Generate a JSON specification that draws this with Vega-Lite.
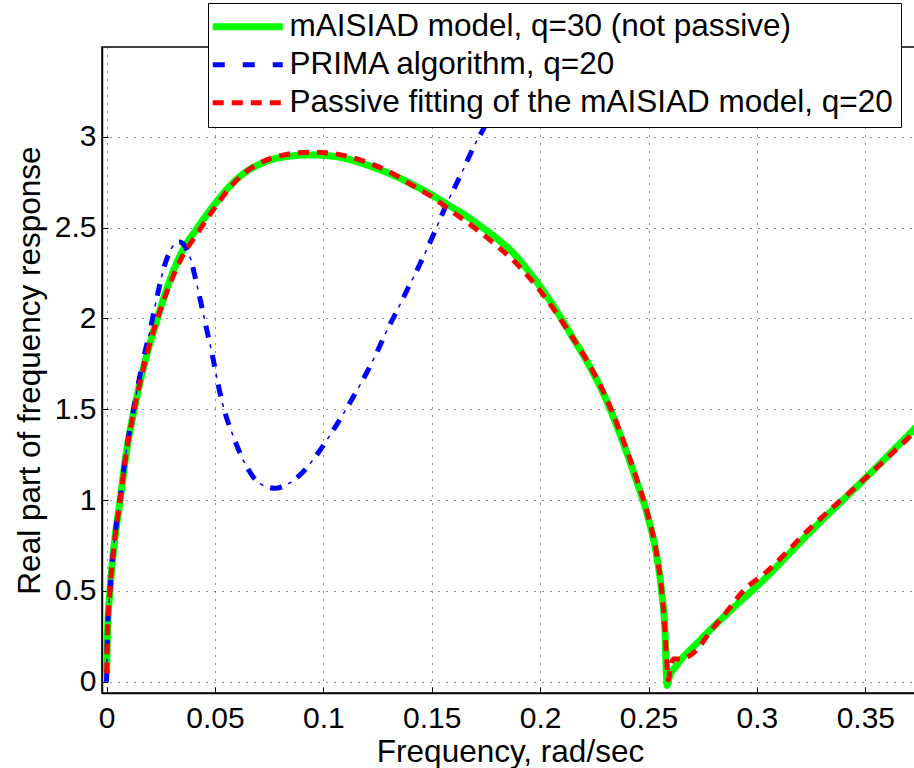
{
  "$schema": "https://vega.github.io/schema/vega-lite/v6.json",
  "width": 816,
  "height": 646,
  "autosize": {"type": "none"},
  "padding": {"left": 102, "top": 47, "right": 0, "bottom": 75},
  "background": "white",
  "config": {
    "font": "Liberation Sans",
    "view": {"stroke": "black", "strokeWidth": 1.5},
    "axis": {
      "grid": true,
      "gridDash": [1, 7],
      "gridColor": "#222222",
      "gridWidth": 1,
      "domainColor": "black",
      "domainWidth": 1.5,
      "tickColor": "black",
      "tickWidth": 1,
      "tickSize": -6,
      "labelFontSize": 30,
      "labelColor": "black",
      "labelFont": "Liberation Sans",
      "titleFont": "Liberation Sans",
      "titleFontSize": 31.5,
      "titleFontWeight": "normal",
      "titleColor": "black",
      "labelFlush": false,
      "labelOverlap": false,
      "format": "~g"
    }
  },
  "datasets": {
    "curves": [
      {"series": "mAISIAD model, q=30 (not passive)", "x": 0.0001, "y": 0.046},
      {"series": "mAISIAD model, q=30 (not passive)", "x": 0.0004, "y": 0.25},
      {"series": "mAISIAD model, q=30 (not passive)", "x": 0.0016, "y": 0.5},
      {"series": "mAISIAD model, q=30 (not passive)", "x": 0.0035, "y": 0.75},
      {"series": "mAISIAD model, q=30 (not passive)", "x": 0.0063, "y": 1.0},
      {"series": "mAISIAD model, q=30 (not passive)", "x": 0.009, "y": 1.25},
      {"series": "mAISIAD model, q=30 (not passive)", "x": 0.0128, "y": 1.5},
      {"series": "mAISIAD model, q=30 (not passive)", "x": 0.0175, "y": 1.75},
      {"series": "mAISIAD model, q=30 (not passive)", "x": 0.0235, "y": 2.0},
      {"series": "mAISIAD model, q=30 (not passive)", "x": 0.028, "y": 2.17},
      {"series": "mAISIAD model, q=30 (not passive)", "x": 0.0345, "y": 2.36},
      {"series": "mAISIAD model, q=30 (not passive)", "x": 0.042, "y": 2.5},
      {"series": "mAISIAD model, q=30 (not passive)", "x": 0.05, "y": 2.63},
      {"series": "mAISIAD model, q=30 (not passive)", "x": 0.0562, "y": 2.72},
      {"series": "mAISIAD model, q=30 (not passive)", "x": 0.0635, "y": 2.8},
      {"series": "mAISIAD model, q=30 (not passive)", "x": 0.0708, "y": 2.85},
      {"series": "mAISIAD model, q=30 (not passive)", "x": 0.08, "y": 2.885},
      {"series": "mAISIAD model, q=30 (not passive)", "x": 0.094, "y": 2.9},
      {"series": "mAISIAD model, q=30 (not passive)", "x": 0.103, "y": 2.895},
      {"series": "mAISIAD model, q=30 (not passive)", "x": 0.112, "y": 2.875},
      {"series": "mAISIAD model, q=30 (not passive)", "x": 0.12, "y": 2.845},
      {"series": "mAISIAD model, q=30 (not passive)", "x": 0.13, "y": 2.8},
      {"series": "mAISIAD model, q=30 (not passive)", "x": 0.1415, "y": 2.735},
      {"series": "mAISIAD model, q=30 (not passive)", "x": 0.15, "y": 2.68},
      {"series": "mAISIAD model, q=30 (not passive)", "x": 0.1569, "y": 2.63},
      {"series": "mAISIAD model, q=30 (not passive)", "x": 0.1645, "y": 2.575},
      {"series": "mAISIAD model, q=30 (not passive)", "x": 0.1723, "y": 2.51},
      {"series": "mAISIAD model, q=30 (not passive)", "x": 0.18, "y": 2.44},
      {"series": "mAISIAD model, q=30 (not passive)", "x": 0.1876, "y": 2.36},
      {"series": "mAISIAD model, q=30 (not passive)", "x": 0.195, "y": 2.255},
      {"series": "mAISIAD model, q=30 (not passive)", "x": 0.203, "y": 2.125},
      {"series": "mAISIAD model, q=30 (not passive)", "x": 0.21, "y": 1.995},
      {"series": "mAISIAD model, q=30 (not passive)", "x": 0.2155, "y": 1.885},
      {"series": "mAISIAD model, q=30 (not passive)", "x": 0.2215, "y": 1.765},
      {"series": "mAISIAD model, q=30 (not passive)", "x": 0.23, "y": 1.565},
      {"series": "mAISIAD model, q=30 (not passive)", "x": 0.2369, "y": 1.36},
      {"series": "mAISIAD model, q=30 (not passive)", "x": 0.2446, "y": 1.1},
      {"series": "mAISIAD model, q=30 (not passive)", "x": 0.2499, "y": 0.9},
      {"series": "mAISIAD model, q=30 (not passive)", "x": 0.2538, "y": 0.69},
      {"series": "mAISIAD model, q=30 (not passive)", "x": 0.2561, "y": 0.49},
      {"series": "mAISIAD model, q=30 (not passive)", "x": 0.2576, "y": 0.27},
      {"series": "mAISIAD model, q=30 (not passive)", "x": 0.2581, "y": 0.08},
      {"series": "mAISIAD model, q=30 (not passive)", "x": 0.2586, "y": -0.02},
      {"series": "mAISIAD model, q=30 (not passive)", "x": 0.2595, "y": 0.02},
      {"series": "mAISIAD model, q=30 (not passive)", "x": 0.263, "y": 0.09},
      {"series": "mAISIAD model, q=30 (not passive)", "x": 0.2722, "y": 0.21},
      {"series": "mAISIAD model, q=30 (not passive)", "x": 0.2876, "y": 0.39},
      {"series": "mAISIAD model, q=30 (not passive)", "x": 0.303, "y": 0.56},
      {"series": "mAISIAD model, q=30 (not passive)", "x": 0.325, "y": 0.83},
      {"series": "mAISIAD model, q=30 (not passive)", "x": 0.35, "y": 1.12},
      {"series": "mAISIAD model, q=30 (not passive)", "x": 0.375, "y": 1.42},

      {"series": "PRIMA algorithm, q=20", "x": 0.0, "y": 0.0},
      {"series": "PRIMA algorithm, q=20", "x": 0.0001, "y": 0.05},
      {"series": "PRIMA algorithm, q=20", "x": 0.0004, "y": 0.25},
      {"series": "PRIMA algorithm, q=20", "x": 0.0016, "y": 0.5},
      {"series": "PRIMA algorithm, q=20", "x": 0.0035, "y": 0.76},
      {"series": "PRIMA algorithm, q=20", "x": 0.0063, "y": 1.01},
      {"series": "PRIMA algorithm, q=20", "x": 0.009, "y": 1.26},
      {"series": "PRIMA algorithm, q=20", "x": 0.0128, "y": 1.52},
      {"series": "PRIMA algorithm, q=20", "x": 0.0165, "y": 1.75},
      {"series": "PRIMA algorithm, q=20", "x": 0.02, "y": 1.93},
      {"series": "PRIMA algorithm, q=20", "x": 0.0239, "y": 2.15},
      {"series": "PRIMA algorithm, q=20", "x": 0.0265, "y": 2.28},
      {"series": "PRIMA algorithm, q=20", "x": 0.0293, "y": 2.37},
      {"series": "PRIMA algorithm, q=20", "x": 0.0315, "y": 2.41},
      {"series": "PRIMA algorithm, q=20", "x": 0.0339, "y": 2.42},
      {"series": "PRIMA algorithm, q=20", "x": 0.036, "y": 2.4},
      {"series": "PRIMA algorithm, q=20", "x": 0.0385, "y": 2.34},
      {"series": "PRIMA algorithm, q=20", "x": 0.0416, "y": 2.19},
      {"series": "PRIMA algorithm, q=20", "x": 0.0462, "y": 1.94},
      {"series": "PRIMA algorithm, q=20", "x": 0.0493, "y": 1.77},
      {"series": "PRIMA algorithm, q=20", "x": 0.0516, "y": 1.63},
      {"series": "PRIMA algorithm, q=20", "x": 0.0547, "y": 1.48},
      {"series": "PRIMA algorithm, q=20", "x": 0.0585, "y": 1.35},
      {"series": "PRIMA algorithm, q=20", "x": 0.0639, "y": 1.2},
      {"series": "PRIMA algorithm, q=20", "x": 0.0708, "y": 1.09},
      {"series": "PRIMA algorithm, q=20", "x": 0.0777, "y": 1.065},
      {"series": "PRIMA algorithm, q=20", "x": 0.0846, "y": 1.095},
      {"series": "PRIMA algorithm, q=20", "x": 0.0885, "y": 1.13},
      {"series": "PRIMA algorithm, q=20", "x": 0.097, "y": 1.25},
      {"series": "PRIMA algorithm, q=20", "x": 0.1046, "y": 1.385},
      {"series": "PRIMA algorithm, q=20", "x": 0.1115, "y": 1.52},
      {"series": "PRIMA algorithm, q=20", "x": 0.1177, "y": 1.65},
      {"series": "PRIMA algorithm, q=20", "x": 0.1238, "y": 1.79},
      {"series": "PRIMA algorithm, q=20", "x": 0.1292, "y": 1.93},
      {"series": "PRIMA algorithm, q=20", "x": 0.1339, "y": 2.04},
      {"series": "PRIMA algorithm, q=20", "x": 0.1392, "y": 2.17},
      {"series": "PRIMA algorithm, q=20", "x": 0.1446, "y": 2.3},
      {"series": "PRIMA algorithm, q=20", "x": 0.1515, "y": 2.48},
      {"series": "PRIMA algorithm, q=20", "x": 0.1569, "y": 2.63},
      {"series": "PRIMA algorithm, q=20", "x": 0.1638, "y": 2.8},
      {"series": "PRIMA algorithm, q=20", "x": 0.1692, "y": 2.94},
      {"series": "PRIMA algorithm, q=20", "x": 0.1746, "y": 3.06},
      {"series": "PRIMA algorithm, q=20", "x": 0.185, "y": 3.32},
      {"series": "PRIMA algorithm, q=20", "x": 0.196, "y": 3.6},

      {"series": "Passive fitting of the mAISIAD model, q=20", "x": 0.0001, "y": 0.046},
      {"series": "Passive fitting of the mAISIAD model, q=20", "x": 0.0004, "y": 0.25},
      {"series": "Passive fitting of the mAISIAD model, q=20", "x": 0.0016, "y": 0.5},
      {"series": "Passive fitting of the mAISIAD model, q=20", "x": 0.0035, "y": 0.75},
      {"series": "Passive fitting of the mAISIAD model, q=20", "x": 0.0063, "y": 1.0},
      {"series": "Passive fitting of the mAISIAD model, q=20", "x": 0.009, "y": 1.25},
      {"series": "Passive fitting of the mAISIAD model, q=20", "x": 0.0128, "y": 1.5},
      {"series": "Passive fitting of the mAISIAD model, q=20", "x": 0.0175, "y": 1.75},
      {"series": "Passive fitting of the mAISIAD model, q=20", "x": 0.0235, "y": 2.0},
      {"series": "Passive fitting of the mAISIAD model, q=20", "x": 0.028, "y": 2.15},
      {"series": "Passive fitting of the mAISIAD model, q=20", "x": 0.0345, "y": 2.33},
      {"series": "Passive fitting of the mAISIAD model, q=20", "x": 0.042, "y": 2.47},
      {"series": "Passive fitting of the mAISIAD model, q=20", "x": 0.05, "y": 2.61},
      {"series": "Passive fitting of the mAISIAD model, q=20", "x": 0.0562, "y": 2.71},
      {"series": "Passive fitting of the mAISIAD model, q=20", "x": 0.0635, "y": 2.8},
      {"series": "Passive fitting of the mAISIAD model, q=20", "x": 0.0708, "y": 2.855},
      {"series": "Passive fitting of the mAISIAD model, q=20", "x": 0.08, "y": 2.895},
      {"series": "Passive fitting of the mAISIAD model, q=20", "x": 0.094, "y": 2.915},
      {"series": "Passive fitting of the mAISIAD model, q=20", "x": 0.103, "y": 2.91},
      {"series": "Passive fitting of the mAISIAD model, q=20", "x": 0.112, "y": 2.89},
      {"series": "Passive fitting of the mAISIAD model, q=20", "x": 0.12, "y": 2.86},
      {"series": "Passive fitting of the mAISIAD model, q=20", "x": 0.13, "y": 2.81},
      {"series": "Passive fitting of the mAISIAD model, q=20", "x": 0.1415, "y": 2.73},
      {"series": "Passive fitting of the mAISIAD model, q=20", "x": 0.15, "y": 2.67},
      {"series": "Passive fitting of the mAISIAD model, q=20", "x": 0.1569, "y": 2.61},
      {"series": "Passive fitting of the mAISIAD model, q=20", "x": 0.1645, "y": 2.545},
      {"series": "Passive fitting of the mAISIAD model, q=20", "x": 0.1723, "y": 2.475},
      {"series": "Passive fitting of the mAISIAD model, q=20", "x": 0.18, "y": 2.4},
      {"series": "Passive fitting of the mAISIAD model, q=20", "x": 0.1876, "y": 2.32},
      {"series": "Passive fitting of the mAISIAD model, q=20", "x": 0.195, "y": 2.225},
      {"series": "Passive fitting of the mAISIAD model, q=20", "x": 0.203, "y": 2.105},
      {"series": "Passive fitting of the mAISIAD model, q=20", "x": 0.21, "y": 1.985},
      {"series": "Passive fitting of the mAISIAD model, q=20", "x": 0.2155, "y": 1.885},
      {"series": "Passive fitting of the mAISIAD model, q=20", "x": 0.2215, "y": 1.77},
      {"series": "Passive fitting of the mAISIAD model, q=20", "x": 0.23, "y": 1.575},
      {"series": "Passive fitting of the mAISIAD model, q=20", "x": 0.2369, "y": 1.375},
      {"series": "Passive fitting of the mAISIAD model, q=20", "x": 0.2446, "y": 1.115},
      {"series": "Passive fitting of the mAISIAD model, q=20", "x": 0.2499, "y": 0.91},
      {"series": "Passive fitting of the mAISIAD model, q=20", "x": 0.2538, "y": 0.7},
      {"series": "Passive fitting of the mAISIAD model, q=20", "x": 0.2561, "y": 0.5},
      {"series": "Passive fitting of the mAISIAD model, q=20", "x": 0.2576, "y": 0.28},
      {"series": "Passive fitting of the mAISIAD model, q=20", "x": 0.2585, "y": 0.1},
      {"series": "Passive fitting of the mAISIAD model, q=20", "x": 0.2591, "y": 0.01},
      {"series": "Passive fitting of the mAISIAD model, q=20", "x": 0.2602, "y": 0.08},
      {"series": "Passive fitting of the mAISIAD model, q=20", "x": 0.2615, "y": 0.125},
      {"series": "Passive fitting of the mAISIAD model, q=20", "x": 0.2653, "y": 0.125},
      {"series": "Passive fitting of the mAISIAD model, q=20", "x": 0.2685, "y": 0.14},
      {"series": "Passive fitting of the mAISIAD model, q=20", "x": 0.2722, "y": 0.175},
      {"series": "Passive fitting of the mAISIAD model, q=20", "x": 0.2784, "y": 0.275},
      {"series": "Passive fitting of the mAISIAD model, q=20", "x": 0.286, "y": 0.385},
      {"series": "Passive fitting of the mAISIAD model, q=20", "x": 0.2945, "y": 0.51},
      {"series": "Passive fitting of the mAISIAD model, q=20", "x": 0.303, "y": 0.59},
      {"series": "Passive fitting of the mAISIAD model, q=20", "x": 0.325, "y": 0.85},
      {"series": "Passive fitting of the mAISIAD model, q=20", "x": 0.35, "y": 1.12},
      {"series": "Passive fitting of the mAISIAD model, q=20", "x": 0.375, "y": 1.4}
    ]
  },
  "data": {"name": "curves"},
  "encoding": {
    "x": {
      "field": "x",
      "type": "quantitative",
      "scale": {"domain": [-0.00208, 0.3743], "nice": false, "zero": false},
      "axis": {
        "values": [0, 0.05, 0.1, 0.15, 0.2, 0.25, 0.3, 0.35],
        "title": "Frequency, rad/sec",
        "labelPadding": 16,
        "titlePadding": 3
      }
    },
    "y": {
      "field": "y",
      "type": "quantitative",
      "scale": {"domain": [-0.062, 3.494], "nice": false, "zero": false},
      "axis": {
        "values": [0, 0.5, 1, 1.5, 2, 2.5, 3],
        "title": "Real part of frequency response",
        "labelPadding": 12,
        "titlePadding": 8
      }
    }
  },
  "layer": [
    {
      "transform": [{"filter": "datum.series === 'mAISIAD model, q=30 (not passive)'"}],
      "mark": {"type": "line", "strokeWidth": 7, "clip": true, "interpolate": "monotone"},
      "encoding": {
        "color": {
          "field": "series",
          "type": "nominal",
          "scale": {
            "domain": ["mAISIAD model, q=30 (not passive)", "PRIMA algorithm, q=20", "Passive fitting of the mAISIAD model, q=20"],
            "range": ["#00ff00", "#0000ff", "#ff0000"]
          },
          "legend": {
            "orient": "none",
            "legendX": 106,
            "legendY": -44,
            "title": null,
            "symbolType": "M-5,0H5",
            "symbolSize": 196,
            "symbolOffset": 16,
            "symbolStrokeWidth": 5,
            "labelFontSize": 31.5,
            "labelFont": "Liberation Sans",
            "labelColor": "black",
            "labelOffset": 26,
            "labelLimit": 1000,
            "rowPadding": 5,
            "padding": 8,
            "strokeColor": "black",
            "fillColor": "white",
            "encode": {
              "symbols": {"update": {"strokeWidth": {"signal": "datum.value === 'mAISIAD model, q=30 (not passive)' ? 7 : 5"}}}
            }
          }
        },
        "strokeDash": {
          "field": "series",
          "type": "nominal",
          "scale": {
            "domain": ["mAISIAD model, q=30 (not passive)", "PRIMA algorithm, q=20", "Passive fitting of the mAISIAD model, q=20"],
            "range": [[1, 0], [12, 18], [11, 8]]
          },
          "legend": {
            "orient": "none",
            "legendX": 106,
            "legendY": -44,
            "title": null,
            "symbolType": "M-5,0H5",
            "symbolSize": 196,
            "symbolOffset": 16,
            "symbolStrokeWidth": 5,
            "labelFontSize": 31.5,
            "labelFont": "Liberation Sans",
            "labelColor": "black",
            "labelOffset": 26,
            "labelLimit": 1000,
            "rowPadding": 5,
            "padding": 8,
            "strokeColor": "black",
            "fillColor": "white",
            "encode": {
              "symbols": {"update": {"strokeWidth": {"signal": "datum.value === 'mAISIAD model, q=30 (not passive)' ? 7 : 5"}}}
            }
          }
        }
      }
    },
    {
      "transform": [{"filter": "datum.series === 'PRIMA algorithm, q=20'"}],
      "mark": {"type": "line", "strokeWidth": 5, "clip": true, "interpolate": "monotone"},
      "encoding": {
        "color": {"field": "series", "type": "nominal"},
        "strokeDash": {"field": "series", "type": "nominal"}
      }
    },
    {
      "transform": [{"filter": "datum.series === 'PRIMA algorithm, q=20'"}],
      "mark": {"type": "line", "strokeWidth": 1.5, "clip": true, "interpolate": "monotone", "color": "#0000ff", "strokeDash": [4, 26], "strokeDashOffset": 11}
    },
    {
      "transform": [{"filter": "datum.series === 'Passive fitting of the mAISIAD model, q=20'"}],
      "mark": {"type": "line", "strokeWidth": 5, "clip": true, "interpolate": "monotone"},
      "encoding": {
        "color": {"field": "series", "type": "nominal"},
        "strokeDash": {"field": "series", "type": "nominal"}
      }
    }
  ]
}
